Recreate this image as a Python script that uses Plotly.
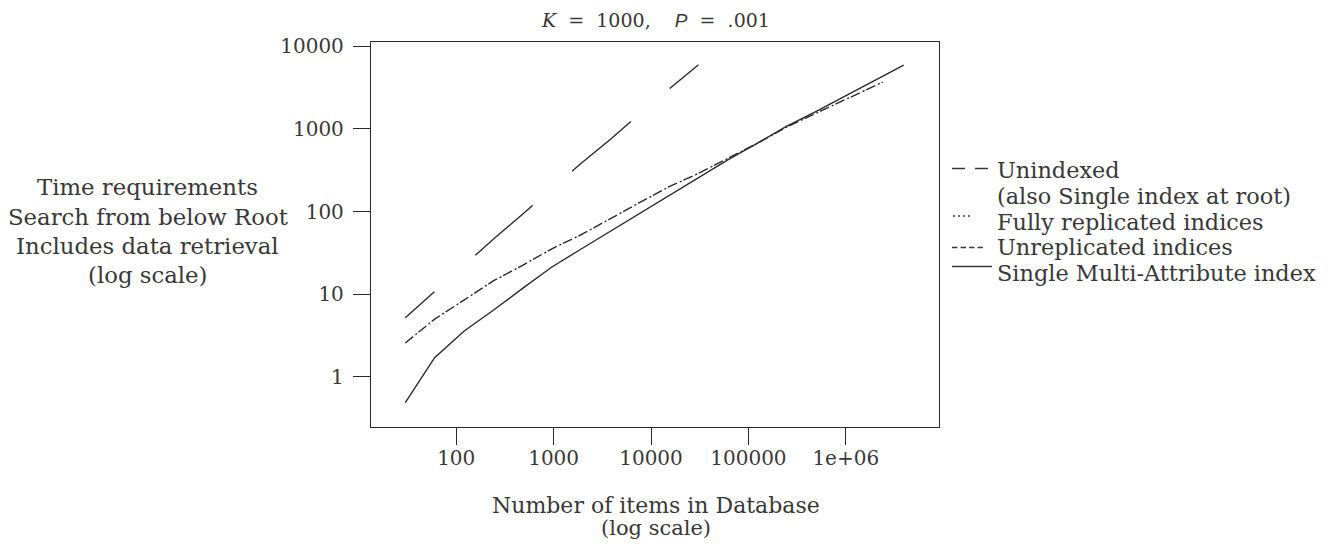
import plotly.graph_objects as go

# ---------------- data ----------------
n_unindexed = [30, 60, 120, 240, 480, 960, 1920, 3840, 7680, 15360, 30720]
t_unindexed = [5.2, 10.7, 22.6, 46.3, 93, 187, 384, 748, 1530, 3040, 5970]

n_indices = [30, 60, 120, 240, 480, 960, 1920, 3840, 7680, 15360, 30720,
             61440, 122880, 245760, 491520, 983040, 1966080, 2400000]
t_fully_replicated = [2.58, 5.0, 8.5, 14.5, 22.4, 35.5, 52.5, 83, 129, 200, 290,
                      440, 668, 1050, 1550, 2240, 3310, 3690]
t_unreplicated = [2.58, 5.0, 8.5, 14.5, 22.4, 35.5, 52.5, 83, 129, 200, 290,
                  440, 668, 1050, 1550, 2240, 3310, 3690]

n_multi = [30, 60, 120, 240, 480, 960, 1920, 3840, 7680, 15360, 30720,
           61440, 122880, 245760, 491520, 983040, 1966080, 3932160]
t_multi = [0.49, 1.71, 3.57, 6.4, 11.8, 21.4, 35.3, 58.1, 95.5, 157, 258,
           423, 670, 1070, 1620, 2500, 3900, 5900]

x_tick_vals = [100, 1000, 10000, 100000, 1000000]
x_tick_text = ["100", "1000", "10000", "100000", "1e+06"]
y_tick_vals = [1, 10, 100, 1000, 10000]
y_tick_text = ["1", "10", "100", "1000", "10000"]

NB = "\u00a0"
title_text = ("<i>K</i>" + NB * 2 + "=" + NB * 2 + "1000," + NB * 4 +
              "<span style='font-family:Liberation Sans'><i>P</i></span>" +
              NB * 2 + "=" + NB * 2 + ".001")
y_title_lines = ["Time requirements", "Search from below Root",
                 "Includes data retrieval", "(log scale)"]
x_title_lines = ["Number of items in Database", "(log scale)"]
legend_lines = ["Unindexed", "(also Single index at root)", "Fully replicated indices",
                "Unreplicated indices", "Single Multi-Attribute index"]

# ---------------- styling / layout ----------------
# the page body adds an 8px margin, so the figure is 16px smaller than the window
OFF = 8
W_FIG, H_FIG = 1340 - 2 * OFF, 550 - 2 * OFF
# plot-area edges in window pixels
L, R, T, B = 371, 939, 42, 427
PW, PH = R - L, B - T
INK = "#2a2a2a"
TXT = "#383838"
SERIF = "DejaVu Serif"

def fx(px):
    return (px - L) / PW

def fy(py):
    return (B - py) / PH

fig = go.Figure()
fig.add_trace(go.Scatter(x=n_unindexed, y=t_unindexed, mode="lines", name="Unindexed",
                         line=dict(color=INK, width=1.4,
                                   dash="39px,55px,76px,52px,77px,51px,300px")))
fig.add_trace(go.Scatter(x=n_indices, y=t_unreplicated, mode="lines", name="Unreplicated indices",
                         line=dict(color=INK, width=1.4, dash="10px,7px")))
fig.add_trace(go.Scatter(x=n_indices, y=t_fully_replicated, mode="lines", name="Fully replicated indices",
                         line=dict(color=INK, width=1.4, dash="0px,13px,2px,2px")))
fig.add_trace(go.Scatter(x=n_multi, y=t_multi, mode="lines", name="Single Multi-Attribute index",
                         line=dict(color=INK, width=1.4)))

axis_common = dict(type="log", showgrid=False, zeroline=False, showline=True, mirror=True,
                   linecolor=INK, linewidth=1.3, ticks="outside", ticklen=17, tickwidth=1.2,
                   tickcolor=INK, tickfont=dict(family=SERIF, size=20, color=TXT))

fig.update_xaxes(range=[1.125, 6.957], tickmode="array", tickvals=x_tick_vals,
                 ticktext=x_tick_text, ticklabelstandoff=-4, **axis_common)
fig.update_yaxes(range=[-0.605, 4.051], tickmode="array", tickvals=y_tick_vals,
                 ticktext=y_tick_text, ticklabelstandoff=5, **axis_common)

ann = []
ann.append(dict(text=title_text, x=fx(655), y=fy(20), xref="paper", yref="paper",
                showarrow=False, xanchor="center", yanchor="middle",
                font=dict(family=SERIF, size=19, color=TXT)))
for txt, yc in zip(y_title_lines, [187, 216.5, 246, 275]):
    ann.append(dict(text=txt, x=fx(147.5), y=fy(yc), xref="paper", yref="paper",
                    showarrow=False, xanchor="center", yanchor="middle",
                    font=dict(family=SERIF, size=22.8, color=TXT)))
for txt, yc, sz in zip(x_title_lines, [505, 528], [22, 21]):
    ann.append(dict(text=txt, x=fx(655.5), y=fy(yc), xref="paper", yref="paper",
                    showarrow=False, xanchor="center", yanchor="middle",
                    font=dict(family=SERIF, size=sz, color=TXT)))
for txt, yc in zip(legend_lines, [170, 195.5, 221.5, 247, 272.5]):
    ann.append(dict(text=txt, x=fx(994.5), y=fy(yc), xref="paper", yref="paper",
                    showarrow=False, xanchor="left", yanchor="middle",
                    font=dict(family=SERIF, size=22.4, color=TXT)))

# legend line samples (left of the legend text)
legend_samples = [  # (x0, x1, y, dash)
    (952, 988, 168.5, "13px,10px"),
    (953, 971, 216, "2px,3px"),
    (952, 983, 247.5, "5.5px,3px"),
    (952, 992, 266.5, "solid"),
]
shapes = []
for x0, x1, yy, dsh in legend_samples:
    shapes.append(dict(type="line", xref="paper", yref="paper",
                       x0=fx(x0), x1=fx(x1), y0=fy(yy), y1=fy(yy),
                       line=dict(color=TXT, width=1.3, dash=dsh)))

fig.update_layout(width=W_FIG, height=H_FIG, autosize=False,
                  margin=dict(l=L - OFF, r=W_FIG + OFF - R, t=T - OFF, b=H_FIG + OFF - B, pad=0),
                  paper_bgcolor="white", plot_bgcolor="white",
                  showlegend=False, annotations=ann, shapes=shapes)

fig.write_html("out.html")
